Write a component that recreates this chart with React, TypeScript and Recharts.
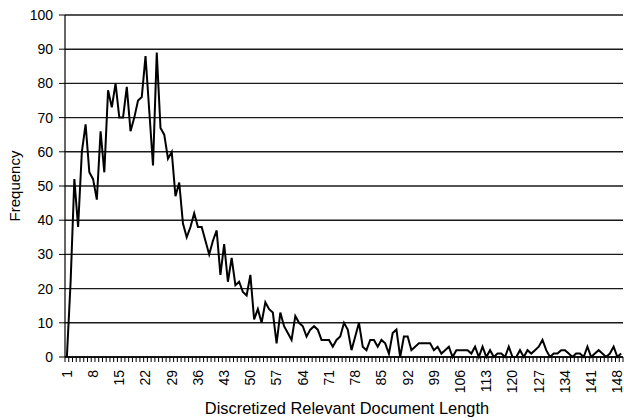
import React from 'react';
import { LineChart, Line, XAxis, YAxis, CartesianGrid, Label } from 'recharts';

// Discretized document length buckets (1..149) and how often each occurs
const lengthBuckets: number[] = Array.from({ length: 149 }, (_, i) => i + 1);

const frequency: number[] = [
  0, 22, 52, 38, 60, 68, 54, 52, 46, 66,
  54, 78, 73, 80, 70, 70, 79, 66, 70, 75,
  76, 88, 72, 56, 89, 67, 65, 58, 60, 47,
  51, 39, 35, 38, 42, 38, 38, 34, 30, 34,
  37, 24, 33, 22, 29, 21, 22, 19, 18, 24,
  11, 14, 10, 16, 14, 13, 4, 13, 9, 7,
  5, 12, 10, 9, 6, 8, 9, 8, 5, 5,
  5, 3, 5, 6, 10, 8, 2, 6, 10, 3,
  2, 5, 5, 3, 5, 4, 1, 7, 8, 0,
  6, 6, 2, 3, 4, 4, 4, 4, 2, 3,
  1, 2, 3, 0, 2, 2, 2, 2, 1, 3,
  0, 3, 0, 2, 0, 1, 1, 0, 3, 0,
  0, 2, 0, 2, 1, 2, 3, 5, 2, 0,
  1, 1, 2, 2, 1, 0, 1, 1, 0, 3,
  0, 1, 2, 1, 0, 1, 3, 0, 1,
];

const xTickLabels: number[] = [1, 8, 15, 22, 29, 36, 43, 50, 57, 64, 71, 78, 85, 92, 99, 106, 113, 120, 127, 134, 141, 148];
const yTicks: number[] = [0, 10, 20, 30, 40, 50, 60, 70, 80, 90, 100];

const rows = lengthBuckets.map((x, i) => ({ x, freq: frequency[i] }));

const CHART_W = 624;
const CHART_H = 420;
const Y_AXIS_W = 65;
const MARGIN = { top: 15, right: 1, bottom: 0, left: 0 };
const FONT = '"Liberation Sans", Arial, Helvetica, sans-serif';

// half of one category band, used to put the minor tick marks between buckets
const plotW = CHART_W - Y_AXIS_W - MARGIN.left - MARGIN.right;
const halfBand = plotW / lengthBuckets.length / 2;
const labelled = new Set(xTickLabels);

const BucketTick = (props: any) => {
  const { x, y, payload } = props;
  const v = payload.value as number;
  const ly = y + 13;
  return (
    <g>
      <line x1={x - halfBand} x2={x - halfBand} y1={y} y2={y + 5} stroke="#000" strokeWidth={1} />
      {v === lengthBuckets[lengthBuckets.length - 1] && (
        <line x1={x + halfBand} x2={x + halfBand} y1={y} y2={y + 5} stroke="#000" strokeWidth={1} />
      )}
      {labelled.has(v) && (
        <text
          x={x}
          y={ly}
          transform={`rotate(-90, ${x}, ${ly})`}
          textAnchor="end"
          dy="0.35em"
          fontSize={14}
          fontFamily={FONT}
          fill="#000"
        >
          {v}
        </text>
      )}
    </g>
  );
};

const XTitle = (props: any) => {
  const vb = props.viewBox;
  return (
    <text
      x={vb.x + vb.width / 2 + 3}
      y={408}
      textAnchor="middle"
      dy="0.35em"
      fontSize={16.4}
      fontFamily={FONT}
      fill="#000"
    >
      Discretized Relevant Document Length
    </text>
  );
};

const YTitle = (props: any) => {
  const vb = props.viewBox;
  const cx = 15;
  const cy = vb.y + vb.height / 2;
  return (
    <text
      x={cx}
      y={cy}
      transform={`rotate(-90, ${cx}, ${cy})`}
      textAnchor="middle"
      dy="0.35em"
      fontSize={15}
      fontFamily={FONT}
      fill="#000"
    >
      Frequency
    </text>
  );
};

export default function App() {
  return (
    <div style={{ position: 'absolute', left: 0, top: 0, background: '#fff' }}>
      <LineChart width={CHART_W} height={CHART_H} data={rows} margin={MARGIN}>
        <CartesianGrid vertical={false} horizontal stroke="#1a1a1a" strokeWidth={1.4} />
        <XAxis
          dataKey="x"
          type="number"
          domain={[0.5, 149.5]}
          ticks={lengthBuckets}
          interval={0}
          height={CHART_H - 357}
          tickSize={0}
          tickMargin={0}
          tickLine={false}
          tick={<BucketTick />}
          axisLine={{ stroke: '#000', strokeWidth: 1.4 }}
        >
          <Label content={XTitle} />
        </XAxis>
        <YAxis
          type="number"
          domain={[0, 100]}
          ticks={yTicks}
          interval={0}
          width={Y_AXIS_W}
          tickSize={6}
          tickMargin={6}
          tickLine={{ stroke: '#000' }}
          axisLine={{ stroke: '#000', strokeWidth: 1.2 }}
          tick={{ fontSize: 14, fontFamily: FONT, fill: '#000' }}
        >
          <Label content={YTitle} />
        </YAxis>
        <Line
          type="linear"
          dataKey="freq"
          stroke="#000"
          strokeWidth={2}
          dot={false}
          isAnimationActive={false}
        />
      </LineChart>
    </div>
  );
}
